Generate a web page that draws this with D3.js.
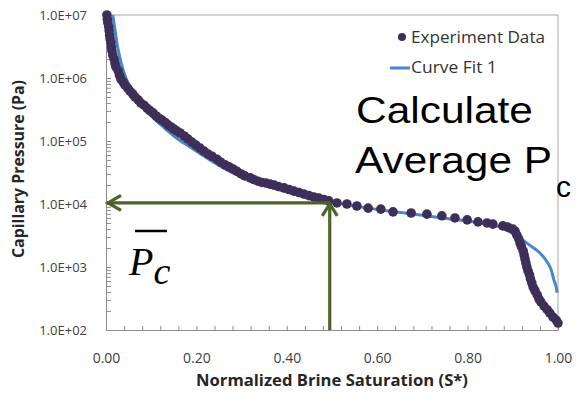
<!DOCTYPE html>
<html>
<head>
<meta charset="utf-8">
<script src="https://cdn.jsdelivr.net/npm/d3@7"></script>
<style>
	body { margin: 0; background: #fff; }
	svg { display: block; }
</style>
</head>
<body>
<svg id="chart" width="577" height="397"></svg>
<script>
// experiment data: normalized brine saturation vs capillary pressure (Pa)
const sExp = [
	0.002, 0.003, 0.004, 0.006, 0.007, 0.008, 0.009, 0.011, 0.012, 0.013, 0.015, 0.018,
	0.020, 0.022, 0.027, 0.030, 0.033, 0.038, 0.042, 0.048, 0.053, 0.059, 0.064, 0.071,
	0.077, 0.084, 0.091, 0.097, 0.104, 0.111, 0.117, 0.124, 0.131, 0.137, 0.144, 0.150,
	0.157, 0.164, 0.173, 0.181, 0.190, 0.199, 0.208, 0.217, 0.226, 0.235,
	0.246, 0.254, 0.263, 0.272, 0.281, 0.290, 0.299, 0.307,
	0.319, 0.327, 0.336, 0.345, 0.354, 0.363, 0.372, 0.381,
	0.394, 0.405, 0.416, 0.427, 0.438, 0.449, 0.460, 0.471, 0.482, 0.493,
	0.511, 0.533, 0.555, 0.580, 0.608, 0.635, 0.675, 0.710, 0.743, 0.772, 0.799, 0.823,
	0.843, 0.856, 0.878, 0.889, 0.900,
	0.905, 0.909, 0.913, 0.916, 0.919, 0.923, 0.925, 0.927, 0.929, 0.931, 0.934, 0.937,
	0.939, 0.942, 0.945, 0.949, 0.954, 0.958, 0.962, 0.969, 0.976, 0.982, 0.989, 0.996, 1.000
]
const pExp = [
	1.0e7, 8.6e6, 7.5e6, 6.5e6, 5.6e6, 4.8e6, 4.2e6, 3.6e6, 3.1e6, 2.7e6, 2.3e6, 2.0e6,
	1.7e6, 1.5e6, 1.3e6, 1.1e6, 9.6e5, 8.6e5, 7.7e5, 6.9e5, 6.2e5, 5.6e5, 5.0e5, 4.5e5,
	4.0e5, 3.7e5, 3.3e5, 3.05e5, 2.8e5, 2.5e5, 2.3e5, 2.15e5, 1.97e5, 1.8e5, 1.67e5, 1.55e5,
	1.44e5, 1.34e5, 1.2e5, 1.08e5, 9.6e4, 8.6e4, 7.7e4, 6.9e4, 6.2e4, 5.7e4,
	5.1e4, 4.6e4, 4.2e4, 3.9e4, 3.6e4, 3.3e4, 3.0e4, 2.8e4,
	2.6e4, 2.45e4, 2.3e4, 2.2e4, 2.15e4, 2.07e4, 2.0e4, 1.9e4,
	1.8e4, 1.7e4, 1.6e4, 1.52e4, 1.44e4, 1.36e4, 1.29e4, 1.24e4, 1.18e4, 1.12e4,
	1.04e4, 1.0e4, 9.3e3, 8.6e3, 8.3e3, 7.5e3, 7.2e3, 6.9e3, 6.5e3, 6.0e3, 5.6e3, 5.2e3,
	5.0e3, 4.8e3, 4.5e3, 4.3e3, 4.0e3,
	3.7e3, 3.2e3, 2.8e3, 2.4e3, 2.1e3, 1.8e3, 1.55e3, 1.34e3, 1.16e3, 1.0e3, 8.6e2, 7.5e2,
	6.5e2, 5.6e2, 4.8e2, 4.2e2, 3.6e2, 3.1e2, 2.8e2, 2.4e2, 2.1e2, 1.86e2, 1.6e2, 1.44e2, 1.29e2
]

// curve fit 1
const sFit = [
	0.015, 0.020, 0.025, 0.032, 0.040, 0.051, 0.066, 0.088, 0.119, 0.153, 0.186, 0.230,
	0.274, 0.319, 0.363, 0.407, 0.451, 0.496, 0.562, 0.628, 0.695, 0.761, 0.827, 0.872,
	0.894, 0.916, 0.938, 0.960, 0.976, 0.985, 0.991, 0.996, 0.998
]
const pFit = [
	1.0e7, 5.8e6, 3.3e6, 1.93e6, 1.2e6, 7.7e5, 5.0e5, 3.1e5, 1.86e5, 1.16e5, 8.0e4, 5.0e4,
	3.3e4, 2.4e4, 1.86e4, 1.5e4, 1.24e4, 1.08e4, 9.0e3, 7.7e3, 6.7e3, 5.8e3, 5.0e3, 4.3e3,
	3.6e3, 2.9e3, 2.2e3, 1.67e3, 1.2e3, 9.0e2, 6.2e2, 4.8e2, 3.9e2
]

// average Pc read-off point (arrows)
const avgS = 0.495
const avgP = 1.04e4

const xMajor = [0, 0.2, 0.4, 0.6, 0.8, 1.0]
const yDecades = [1e2, 1e3, 1e4, 1e5, 1e6, 1e7]

const colours = {
	dots: "#3d2f58",
	fit: "#4a86cc",
	arrow: "#4f6228",
	axis: "#8c8c8c",
	border: "#a6a6a6",
	label: "#404040"
}

const svg = d3.select("#chart")

const x = d3.scaleLinear().domain([0, 1]).range([106, 558])
const y = d3.scaleLog().domain([1e2, 1e7]).range([330, 15])

const expData = sExp.map((s, i) => ({ s, p: pExp[i] }))
const fitData = sFit.map((s, i) => ({ s, p: pFit[i] }))

// top and right frame
svg.append("line")
	.attr("x1", x(0)).attr("x2", x(1))
	.attr("y1", y(1e7)).attr("y2", y(1e7))
	.attr("stroke", colours.border)
svg.append("line")
	.attr("x1", x(1)).attr("x2", x(1))
	.attr("y1", y(1e7)).attr("y2", y(1e2))
	.attr("stroke", colours.border)

/**
 * y axis: every log tick drawn inside, labels only on decades
 */
const fmtExp = d => `1.0E+${String(Math.round(Math.log10(d))).padStart(2, "0")}`
const yAxis = svg.append("g")
	.attr("transform", `translate(${x(0)},0)`)
	.call(
		d3.axisLeft(y)
			.tickValues(y.ticks())
			.tickSizeInner(-5)
			.tickSizeOuter(0)
			.tickPadding(19)
			.tickFormat(d => (yDecades.includes(d) ? fmtExp(d) : ""))
	)

/**
 * x axis: small ticks every 0.04, labels every 0.2
 */
const xAxis = svg.append("g")
	.attr("transform", `translate(0,${y(1e2)})`)
	.call(
		d3.axisBottom(x)
			.tickValues(d3.range(0, 26).map(i => i * 0.04))
			.tickSizeInner(-4)
			.tickSizeOuter(0)
			.tickPadding(23)
			.tickFormat(d => (xMajor.some(m => Math.abs(m - d) < 1e-6) ? d.toFixed(2) : ""))
	)

svg.selectAll(".domain, .tick line").attr("stroke", colours.axis)
yAxis.selectAll("text")
	.attr("fill", colours.label)
	.style("font-family", "'Open Sans', sans-serif")
	.style("font-size", "13px")
xAxis.selectAll("text")
	.attr("fill", colours.label)
	.style("font-family", "'Open Sans', sans-serif")
	.style("font-size", "14px")

// axis titles
svg.append("text")
	.attr("transform", "translate(24,169) rotate(-90)")
	.attr("text-anchor", "middle")
	.attr("textLength", 178)
	.attr("lengthAdjust", "spacingAndGlyphs")
	.style("font-family", "'Open Sans', sans-serif")
	.style("font-weight", "bold")
	.style("font-size", "15.5px")
	.attr("fill", "#262626")
	.text("Capillary Pressure (Pa)")

svg.append("text")
	.attr("x", 332)
	.attr("y", 386)
	.attr("text-anchor", "middle")
	.attr("textLength", 272)
	.attr("lengthAdjust", "spacingAndGlyphs")
	.style("font-family", "'Open Sans', sans-serif")
	.style("font-weight", "bold")
	.style("font-size", "15.5px")
	.attr("fill", "#262626")
	.text("Normalized Brine Saturation (S*)")

// curve fit line (under the markers)
const line = d3.line()
	.x(d => x(d.s))
	.y(d => y(d.p))
	.curve(d3.curveMonotoneX)

svg.append("path")
	.datum(fitData)
	.attr("fill", "none")
	.attr("stroke", colours.fit)
	.attr("stroke-width", 3)
	.attr("d", line)

// experiment markers
svg.append("g")
	.selectAll("circle")
	.data(expData)
	.enter()
	.append("circle")
	.attr("cx", d => x(d.s))
	.attr("cy", d => y(d.p))
	.attr("r", 4.8)
	.attr("fill", colours.dots)

/**
 * Green read-off arrows: up from S* axis, then left to the P axis
 */
const ax = x(avgS)
const ay = y(avgP)
const arrows = svg.append("g")
	.attr("fill", "none")
	.attr("stroke", colours.arrow)
	.attr("stroke-width", 3.2)

arrows.append("line")
	.attr("x1", ax).attr("x2", ax)
	.attr("y1", y(1e2)).attr("y2", ay + 1)
arrows.append("polyline")
	.attr("points", `${ax - 7.5},${ay + 13} ${ax},${ay + 1} ${ax + 7.5},${ay + 13}`)

arrows.append("line")
	.attr("x1", ax).attr("x2", x(0) + 1)
	.attr("y1", ay).attr("y2", ay)
arrows.append("polyline")
	.attr("points", `${x(0) + 15},${ay - 7.5} ${x(0) + 2},${ay} ${x(0) + 15},${ay + 7.5}`)

// legend
const legend = svg.append("g")
	.style("font-family", "'Open Sans', sans-serif")
	.style("font-size", "16.5px")
	.attr("fill", "#333")

legend.append("circle")
	.attr("cx", 402).attr("cy", 37).attr("r", 4)
	.attr("fill", colours.dots)
legend.append("text")
	.attr("x", 411).attr("y", 43)
	.attr("textLength", 134)
	.attr("lengthAdjust", "spacingAndGlyphs")
	.text("Experiment Data")

legend.append("line")
	.attr("x1", 390).attr("x2", 410)
	.attr("y1", 68).attr("y2", 68)
	.attr("stroke", colours.fit)
	.attr("stroke-width", 3)
legend.append("text")
	.attr("x", 411).attr("y", 73)
	.attr("textLength", 86)
	.attr("lengthAdjust", "spacingAndGlyphs")
	.text("Curve Fit 1")

// annotation text
const note = svg.append("g")
	.style("font-family", "'Liberation Sans', Arial, sans-serif")
	.attr("fill", "#000")

note.append("text")
	.attr("x", 356).attr("y", 123)
	.attr("textLength", 177)
	.attr("lengthAdjust", "spacingAndGlyphs")
	.style("font-size", "37px")
	.text("Calculate")
const avgLine = note.append("text")
	.attr("x", 355).attr("y", 173)
	.style("font-size", "37px")
avgLine.append("tspan")
	.attr("textLength", 197)
	.attr("lengthAdjust", "spacingAndGlyphs")
	.text("Average P")
avgLine.append("tspan")
	.attr("x", 556).attr("y", 197)
	.style("font-size", "30px")
	.text("c")

// P-bar sub c, one text element with a lowered c
const pbar = svg.append("text")
	.attr("x", 129).attr("y", 275)
	.style("font-family", "'Liberation Serif', 'DejaVu Serif', serif")
	.style("font-style", "italic")
	.style("font-size", "40px")
	.attr("fill", "#000")
pbar.append("tspan").text("P")
pbar.append("tspan")
	.attr("dy", 9)
	.style("font-size", "38px")
	.text("c")

svg.append("line")
	.attr("x1", 135).attr("x2", 167)
	.attr("y1", 231).attr("y2", 231)
	.attr("stroke", "#000")
	.attr("stroke-width", 2.5)
</script>
</body>
</html>
